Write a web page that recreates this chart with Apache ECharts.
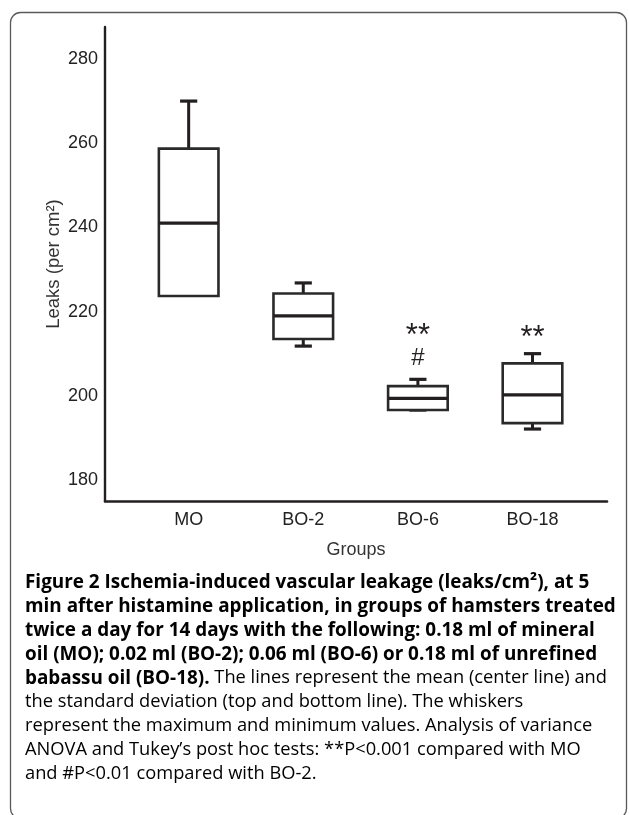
<!DOCTYPE html>
<html>
<head>
<meta charset="utf-8">
<script src="https://cdn.jsdelivr.net/npm/echarts@6/dist/echarts.min.js"></script>
<style>
html,body{margin:0;padding:0;background:#fff;}
#chart{width:629px;height:815px;}
</style>
</head>
<body>
<div id="chart"></div>
<script>
// ---- data ----
const groups = ['MO', 'BO-2', 'BO-6', 'BO-18'];
const maxValues = [270.0, 226.8, 203.9, 210.0];
const sdTop = [258.7, 224.3, 202.3, 207.7];
const means = [241.0, 219.0, 199.4, 200.2];
const sdBottom = [223.7, 213.5, 196.6, 193.5];
const minValues = [224.9, 211.8, 196.6, 192.1];
const annotations = ['', '', '**\n#', '**'];
const yTickValues = [180, 200, 220, 240, 260, 280];
const groupPositions = [1, 2, 3, 4];

const captionLines = [
  [['b', 'Figure 2 Ischemia-induced vascular leakage (leaks/cm²), at 5']],
  [['b', 'min after histamine application, in groups of hamsters treated']],
  [['b', 'twice a day for 14 days with the following: 0.18 ml of mineral']],
  [['b', 'oil (MO); 0.02 ml (BO-2); 0.06 ml (BO-6) or 0.18 ml of unrefined']],
  [['b', 'babassu oil (BO-18).'], ['r', ' The lines represent the mean (center line) and']],
  [['r', 'the standard deviation (top and bottom line). The whiskers']],
  [['r', 'represent the maximum and minimum values. Analysis of variance']],
  [['r', 'ANOVA and Tukey\u2019s post hoc tests: **P<0.001 compared with MO']],
  [['r', 'and #P<0.01 compared with BO-2.']]
];

const seriesData = groups.map((g, i) => [groupPositions[i], maxValues[i], sdTop[i], means[i], sdBottom[i], minValues[i], i]);

const INK = '#231f20';
const AXIS_FONT = '"Liberation Sans", Arial, Helvetica, sans-serif';
const CAP_FONT = '"Open Sans", "Noto Sans", sans-serif';

function measure(text, weight) {
  const ctx = document.createElement('canvas').getContext('2d');
  ctx.font = weight + ' 100px ' + CAP_FONT;
  return ctx.measureText(text).width / 100;
}
const capLeft = 25;
const fitA = 592 / measure(captionLines[3][0][1], 'bold');
const fitB = 561 / measure(captionLines[0][0][1], 'bold');
const capSize = (fitA + fitB) / 2;
const boldSize = Math.round(capSize * 0.985 * 10) / 10;
const regSize = Math.round(capSize * 0.955 * 10) / 10;

function renderItem(params, api) {
  const x = api.value(0);
  const pMax = api.coord([x, api.value(1)]);
  const pTop = api.coord([x, api.value(2)]);
  const pMean = api.coord([x, api.value(3)]);
  const pBot = api.coord([x, api.value(4)]);
  const pMin = api.coord([x, api.value(5)]);
  const idx = api.value(6);
  const band = api.size([1, 0])[0];
  const boxW = band * 0.52;
  const capW = band * 0.15;
  const cx = pMean[0];
  const children = [];
  children.push({type: 'line', shape: {x1: cx, y1: pTop[1], x2: cx, y2: pMax[1]}, style: {stroke: INK, lineWidth: 3}});
  children.push({type: 'line', shape: {x1: cx - capW / 2, y1: pMax[1], x2: cx + capW / 2, y2: pMax[1]}, style: {stroke: INK, lineWidth: 3.2}});
  if (pMin[1] > pBot[1]) {
    children.push({type: 'line', shape: {x1: cx, y1: pBot[1], x2: cx, y2: pMin[1]}, style: {stroke: INK, lineWidth: 3}});
  }
  children.push({type: 'line', shape: {x1: cx - capW / 2, y1: pMin[1], x2: cx + capW / 2, y2: pMin[1]}, style: {stroke: INK, lineWidth: 3.2}});
  children.push({type: 'rect', shape: {x: cx - boxW / 2, y: pTop[1], width: boxW, height: pBot[1] - pTop[1]},
    style: {fill: '#fff', stroke: '#2a2a2a', lineWidth: 2.6}, z2: 5});
  children.push({type: 'line', shape: {x1: cx - boxW / 2, y1: pMean[1], x2: cx + boxW / 2, y2: pMean[1]},
    style: {stroke: INK, lineWidth: 3.3}, z2: 6});
  const ann = annotations[idx];
  if (ann) {
    const lines = ann.split('\n').reverse();
    lines.forEach((t, k) => {
      const isStar = t.indexOf('*') >= 0;
      const off = 21 + 28 * k - (isStar ? 6 : 0);
      children.push({type: 'text', x: cx, y: pMax[1] - off,
        style: {text: t, fill: INK, font: (isStar ? '31px ' : '24px ') + AXIS_FONT, align: 'center', verticalAlign: 'middle'}, z2: 7});
    });
  }
  return {type: 'group', children: children};
}

const chart = echarts.init(document.getElementById('chart'), null, {renderer: 'canvas'});

const richStyles = {
  b: {fontFamily: CAP_FONT, fontWeight: 'bold', fontSize: boldSize, color: '#231f20'},
  r: {fontFamily: CAP_FONT, fontWeight: 'normal', fontSize: regSize, color: '#58595b'}
};
const capFirstCenter = 583;
const capLineStep = 23.8;
const captionGraphics = captionLines.map((parts, k) => ({
  type: 'text',
  x: capLeft,
  y: capFirstCenter + capLineStep * k,
  style: {
    text: parts.map(p => '{' + p[0] + '|' + p[1] + '}').join(''),
    rich: richStyles,
    verticalAlign: 'middle'
  }
}));

chart.setOption({
  backgroundColor: '#ffffff',
  animation: false,
  grid: {left: 105, right: 22, top: 27, bottom: 314, containLabel: false},
  xAxis: {
    type: 'value',
    min: 0.27,
    max: 4.65,
    name: 'Groups',
    nameLocation: 'middle',
    nameGap: 40,
    nameTextStyle: {fontFamily: AXIS_FONT, fontSize: 18, color: '#333'},
    axisLine: {show: true, onZero: false, lineStyle: {color: INK, width: 2.6}},
    axisTick: {show: false},
    splitLine: {show: false},
    axisLabel: {
      customValues: groupPositions,
      formatter: v => groups[groupPositions.indexOf(v)] || '',
      margin: 10,
      fontFamily: AXIS_FONT,
      fontSize: 18,
      color: '#222'
    }
  },
  yAxis: {
    type: 'value',
    min: 175,
    max: 287.6,
    name: 'Leaks (per cm²)',
    nameLocation: 'middle',
    nameGap: 42,
    nameMoveOverlap: false,
    nameTextStyle: {fontFamily: AXIS_FONT, fontSize: 18.5, color: '#333'},
    axisLine: {show: true, onZero: false, lineStyle: {color: INK, width: 2.4}},
    axisTick: {show: false},
    splitLine: {show: false},
    axisLabel: {
      customValues: yTickValues,
      margin: 7,
      fontFamily: AXIS_FONT,
      fontSize: 18,
      color: '#222'
    }
  },
  series: [{
    type: 'custom',
    renderItem: renderItem,
    encode: {x: 0, y: [1, 2, 3, 4, 5]},
    data: seriesData,
    clip: false
  }],
  graphic: [
    {type: 'rect', shape: {x: 10.5, y: 12.5, width: 616, height: 806, r: 10},
      style: {fill: 'none', stroke: '#5a5a5a', lineWidth: 1.3}, silent: true, z: -1}
  ].concat(captionGraphics)
});
</script>
</body>
</html>
